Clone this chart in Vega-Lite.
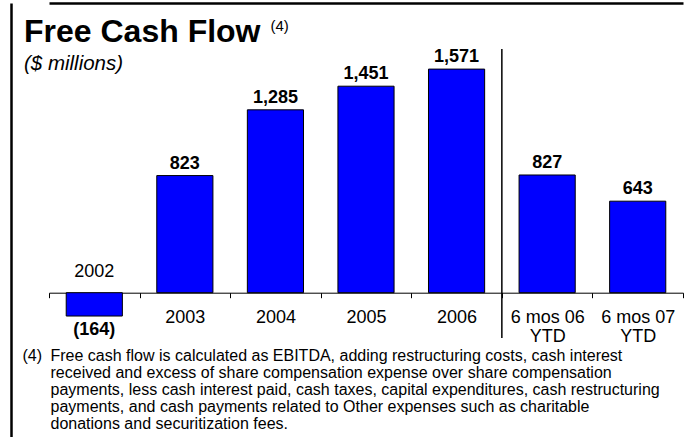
{
  "$schema": "https://vega.github.io/schema/vega-lite/v6.json",
  "width": 673,
  "height": 434,
  "autosize": {"type": "none"},
  "padding": {"left": 11, "top": 3, "right": 0, "bottom": 0},
  "background": "white",
  "config": {
    "view": {"stroke": null},
    "font": "Liberation Sans"
  },
  "title": {
    "text": "Free Cash Flow",
    "subtitle": "($ millions)",
    "anchor": "start",
    "frame": "group",
    "font": "Liberation Sans",
    "fontSize": 32,
    "fontWeight": "bold",
    "color": "black",
    "subtitleFont": "Liberation Sans",
    "subtitleFontSize": 20.5,
    "subtitleFontStyle": "italic",
    "subtitleColor": "black",
    "subtitlePadding": 5,
    "dx": 13,
    "dy": 76
  },
  "resolve": {"axis": {"y": "independent"}},
  "datasets": {
    "bars": [
      {"period": "2002", "value": -164, "label": "(164)"},
      {"period": "2003", "value": 823, "label": "823"},
      {"period": "2004", "value": 1285, "label": "1,285"},
      {"period": "2005", "value": 1451, "label": "1,451"},
      {"period": "2006", "value": 1571, "label": "1,571"},
      {"period": "6 mos 06 YTD", "value": 827, "label": "827"},
      {"period": "6 mos 07 YTD", "value": 643, "label": "643"}
    ],
    "divider": [
      {"period": "6 mos 06 YTD", "top": 1712, "bottom": -318}
    ]
  },
  "layer": [
    {
      "data": {"name": "bars"},
      "mark": {"type": "bar", "color": "#0000FF", "stroke": "black", "strokeWidth": 1, "width": {"band": 0.62}},
      "encoding": {
        "x": {
          "field": "period",
          "type": "nominal",
          "sort": null,
          "scale": {"range": [38, 672], "paddingInner": 0, "paddingOuter": 0},
          "axis": {
            "orient": "bottom",
            "offset": -144.3,
            "domainColor": "black",
            "domainWidth": 1,
            "tickBand": "extent",
            "tickColor": "black",
            "tickSize": 5,
            "labelAngle": 0,
            "labelFont": "Liberation Sans",
            "labelFontSize": 18,
            "labelColor": "black",
            "labelPadding": 11,
            "labelLineHeight": 19,
            "labelExpr": "datum.label == '2002' ? '' : (indexof(datum.label, ' YTD') > 0 ? [replace(datum.label, ' YTD', ''), 'YTD'] : datum.label)",
            "title": [
              "Free cash flow is calculated as EBITDA, adding restructuring costs, cash interest",
              "received and excess of share compensation expense over share compensation",
              "payments, less cash interest paid, cash taxes, capital expenditures, cash restructuring",
              "payments, and cash payments related to Other expenses such as charitable",
              "donations and securitization fees."
            ],
            "titleFont": "Liberation Sans",
            "titleFontSize": 16,
            "titleFontWeight": "normal",
            "titleColor": "black",
            "titleAlign": "left",
            "titleBaseline": "alphabetic",
            "titleAngle": 0,
            "titleX": 39,
            "titleY": 67.5,
            "titleLineHeight": 17.1,
            "titleLimit": 1000
          }
        },
        "y": {
          "field": "value",
          "type": "quantitative",
          "scale": {"domain": [-1013.9, 2035.5], "nice": false, "zero": false},
          "axis": {
            "orient": "left",
            "values": [2035.5],
            "domain": true,
            "domainColor": "black",
            "domainWidth": 2.5,
            "ticks": false,
            "labels": false,
            "grid": true,
            "gridColor": "black",
            "gridWidth": 2.5,
            "gridOpacity": 1,
            "title": "(4)",
            "titleFont": "Liberation Sans",
            "titleFontSize": 15,
            "titleFontWeight": "normal",
            "titleColor": "black",
            "titleAngle": 0,
            "titleAlign": "left",
            "titleBaseline": "alphabetic",
            "titleX": 259,
            "titleY": 27
          }
        }
      }
    },
    {
      "data": {"name": "bars"},
      "transform": [{"filter": "datum.value >= 0"}],
      "mark": {"type": "text", "baseline": "alphabetic", "dy": -7, "fontSize": 18, "fontWeight": "bold", "font": "Liberation Sans", "color": "black"},
      "encoding": {
        "x": {"field": "period", "type": "nominal", "sort": null},
        "y": {
          "field": "value",
          "type": "quantitative",
          "axis": {
            "orient": "right",
            "domain": false,
            "ticks": false,
            "labels": false,
            "grid": false,
            "title": "(4)",
            "titleFont": "Liberation Sans",
            "titleFontSize": 16,
            "titleFontWeight": "normal",
            "titleColor": "black",
            "titleAngle": 0,
            "titleAlign": "left",
            "titleBaseline": "alphabetic",
            "titleX": -662,
            "titleY": 357
          }
        },
        "text": {"field": "label"}
      }
    },
    {
      "data": {"name": "bars"},
      "transform": [{"filter": "datum.value < 0"}],
      "mark": {"type": "text", "baseline": "top", "dy": 5, "fontSize": 18, "fontWeight": "bold", "font": "Liberation Sans", "color": "black"},
      "encoding": {
        "x": {"field": "period", "type": "nominal", "sort": null},
        "y": {"field": "value", "type": "quantitative", "axis": null},
        "text": {"field": "label"}
      }
    },
    {
      "data": {"name": "bars"},
      "transform": [{"filter": "datum.value < 0"}],
      "mark": {"type": "text", "baseline": "alphabetic", "dy": -16, "fontSize": 18, "fontWeight": "normal", "font": "Liberation Sans", "color": "black"},
      "encoding": {
        "x": {"field": "period", "type": "nominal", "sort": null},
        "y": {"datum": 0, "type": "quantitative", "axis": null},
        "text": {"field": "period"}
      }
    },
    {
      "data": {"name": "divider"},
      "mark": {"type": "rule", "color": "black", "strokeWidth": 1.5},
      "encoding": {
        "x": {"field": "period", "type": "nominal", "sort": null, "bandPosition": 0},
        "y": {"field": "top", "type": "quantitative", "axis": null},
        "y2": {"field": "bottom"}
      }
    }
  ]
}
